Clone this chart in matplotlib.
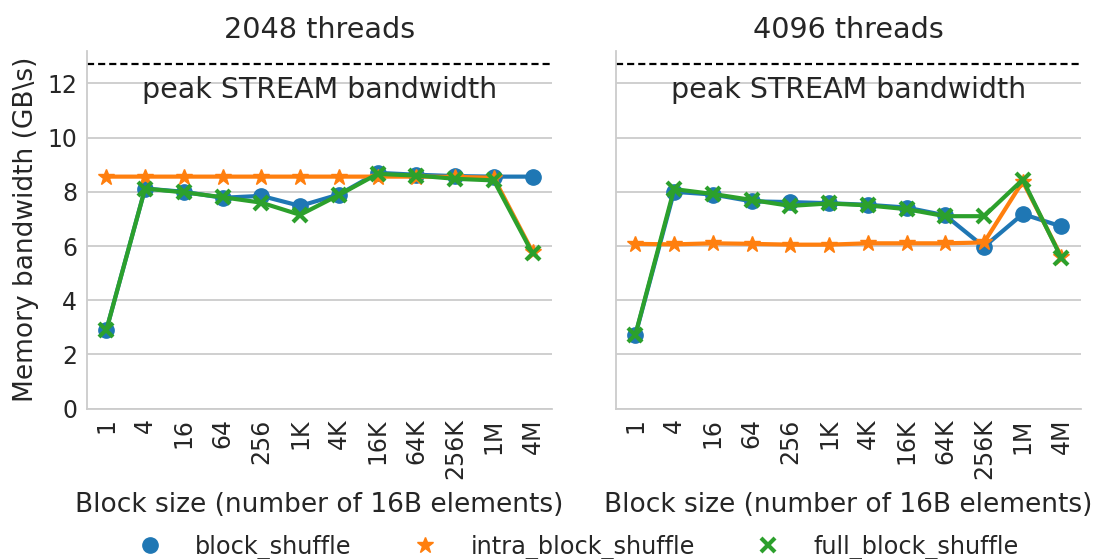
import numpy as np
import matplotlib
matplotlib.use("Agg")
import matplotlib.pyplot as plt
import seaborn as sns
from matplotlib.lines import Line2D

block_sizes = ["1", "4", "16", "64", "256", "1K", "4K", "16K", "64K", "256K", "1M", "4M"]
thread_counts = [2048, 4096]
peak_stream = 12.7

# memory bandwidth in GB/s
bw_2048 = {
    "block_shuffle":       [2.9, 8.12, 8.0, 7.78, 7.85, 7.48, 7.9, 8.7, 8.63, 8.58, 8.56, 8.56],
    "intra_block_shuffle": [8.56, 8.56, 8.56, 8.56, 8.56, 8.56, 8.56, 8.56, 8.56, 8.55, 8.52, 5.78],
    "full_block_shuffle":  [2.9, 8.12, 7.98, 7.8, 7.6, 7.15, 7.88, 8.66, 8.6, 8.48, 8.42, 5.73],
}
bw_4096 = {
    "block_shuffle":       [2.7, 8.0, 7.9, 7.65, 7.62, 7.58, 7.52, 7.42, 7.13, 5.97, 7.18, 6.72],
    "intra_block_shuffle": [6.08, 6.06, 6.1, 6.08, 6.05, 6.05, 6.1, 6.1, 6.1, 6.13, 8.38, 5.6],
    "full_block_shuffle":  [2.72, 8.1, 7.92, 7.7, 7.48, 7.57, 7.5, 7.36, 7.1, 7.1, 8.45, 5.55],
}

series = ["block_shuffle", "intra_block_shuffle", "full_block_shuffle"]
colors = ["#1f77b4", "#ff7f0e", "#2ca02c"]
markers = ["o", "*", "x"]
msizes = [11, 12, 10]

sns.set_style("whitegrid")
plt.rcParams["font.family"] = ["DejaVu Sans"]
plt.rcParams["text.color"] = ".15"
plt.rcParams["axes.labelcolor"] = ".15"
plt.rcParams["xtick.color"] = ".15"
plt.rcParams["ytick.color"] = ".15"

fig = plt.figure(figsize=(10.94, 5.59), dpi=100)
ax1 = fig.add_axes([0.0795, 0.269, 0.425, 0.640])
ax2 = fig.add_axes([0.563, 0.269, 0.425, 0.640], sharey=ax1)

x = np.arange(len(block_sizes))
for ax, n, data in [(ax1, 2048, bw_2048), (ax2, 4096, bw_4096)]:
    for name, c, m, ms in zip(series, colors, markers, msizes):
        ax.plot(x, data[name], color=c, lw=3.0, marker=m, ms=ms, mew=3 if m == "x" else 1,
                mec=c, label=name)
    ax.axhline(peak_stream, color="black", ls="--", lw=1.6, dashes=(3.2, 1.8))
    ax.text(0.5, 11.75, "peak STREAM bandwidth", transform=ax.get_yaxis_transform(),
            ha="center", va="center", fontsize=20.5)
    ax.set_xlim(-0.5, len(block_sizes) - 0.5)
    ax.set_xticks(x)
    ax.set_xticklabels(block_sizes, rotation=90, fontsize=17)
    ax.set_title(f"{n} threads", fontsize=20.6, pad=9.5)
    ax.set_xlabel("Block size (number of 16B elements)", fontsize=19, labelpad=9)
    ax.grid(axis="x", visible=False)
    ax.grid(axis="y", color="#cccccc", lw=1.3)
    for side in ["top", "right"]:
        ax.spines[side].set_visible(False)
    for side in ["left", "bottom"]:
        ax.spines[side].set_color("#cccccc")
        ax.spines[side].set_linewidth(1.3)
    ax.tick_params(axis="y", labelsize=17)

ax1.set_ylim(0, 13.2)
ax1.set_yticks([0, 2, 4, 6, 8, 10, 12])
ax1.set_ylabel("Memory bandwidth (GB\\s)", fontsize=19, labelpad=6)
plt.setp(ax2.get_yticklabels(), visible=False)
ax2.tick_params(axis="y", length=0)

handles = [Line2D([], [], ls="none", marker=m, color=c, ms=ms, mew=3 if m == "x" else 1)
           for c, m, ms in zip(colors, markers, msizes)]
fig.legend(handles, series, loc="center", bbox_to_anchor=(0.523, 0.021), ncol=3,
           frameon=False, fontsize=17.25, columnspacing=2.05, handletextpad=0.9)

plt.savefig("out.png", dpi=100)
